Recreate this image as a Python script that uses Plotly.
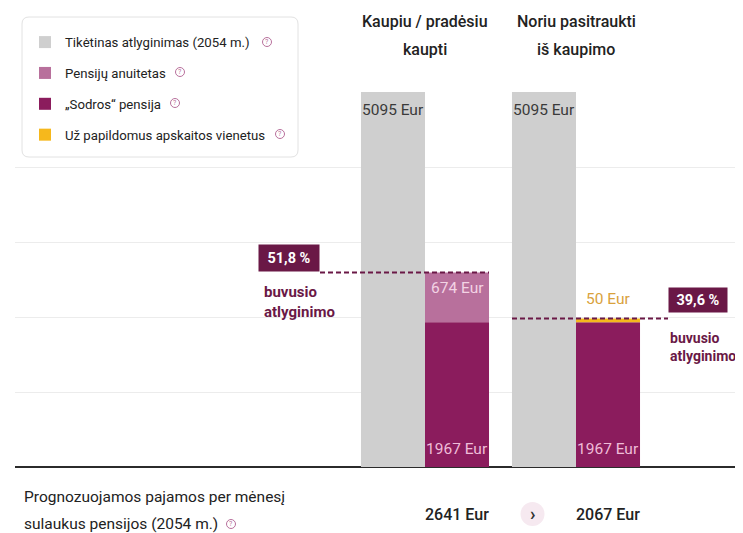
import plotly.graph_objects as go

# ---------------- data ----------------
categories = ["Kaupiu / pradėsiu kaupti", "Noriu pasitraukti iš kaupimo"]
header_lines = [["Kaupiu / pradėsiu", "kaupti"], ["Noriu pasitraukti", "iš kaupimo"]]
salary = [5095, 5095]
annuity = [674, None]
sodros = [1967, 1967]
extra_units = [None, 50]
totals = [2641, 2067]
percent_labels = ["51,8 %", "39,6 %"]
legend_names = ["Tikėtinas atlyginimas (2054 m.)", "Pensijų anuitetas",
                "„Sodros“ pensija", "Už papildomus apskaitos vienetus"]
bottom_lines = ["Prognozuojamos pajamos per mėnesį", "sulaukus pensijos (2054 m.)"]

# ---------------- style ----------------
FONT = "Roboto"
C_GRAY = "#cfcfcf"
C_ANN = "#b8709c"
C_SOD = "#8b1c5d"
C_EXTRA = "#f6b81c"
C_DARK = "#6a1846"
C_ICON = "#b8709c"

OFF = 8  # default page body margin
W, H = 743 - OFF, 533 - OFF
# plot area in reference-image pixels
RL, RR, RT, RB = 15, 743, 92, 467
L, R, T, B = RL - OFF, RR - OFF, RT - OFF, RB - OFF


def pxx(p):
    return (p - RL) / (RR - RL)


def pxy(p):
    return (RB - p) / (RB - RT)


CAT_PX = 151.0
X0_PX = 425.0
xr = [(RL - X0_PX) / CAT_PX, (RR - X0_PX) / CAT_PX]


def dx(p):
    return (p - X0_PX) / CAT_PX


HALF = 0.212  # centre offset of each bar within a category
ymax = max(salary)

fig = go.Figure()
fig.add_trace(go.Bar(
    x=categories, y=salary, name=legend_names[0], offsetgroup="a",
    legendgroup="g1", marker=dict(color=C_GRAY, line=dict(width=0)), hoverinfo="skip"))
fig.add_trace(go.Bar(
    x=categories, y=annuity, base=sodros, name=legend_names[1], offsetgroup="b",
    legendgroup="g2", marker=dict(color=C_ANN, line=dict(width=0)), hoverinfo="skip"))
fig.add_trace(go.Bar(
    x=categories, y=sodros, name=legend_names[2], offsetgroup="b",
    legendgroup="g3", marker=dict(color=C_SOD, line=dict(width=0)), hoverinfo="skip"))
fig.add_trace(go.Bar(
    x=categories, y=extra_units, base=sodros, name=legend_names[3], offsetgroup="b",
    legendgroup="g4", marker=dict(color=C_EXTRA, line=dict(width=0)), hoverinfo="skip"))

annotations = []
shapes = []

# bar value labels
for i, v in enumerate(salary):
    annotations.append(dict(x=i - HALF, y=v, xref="x", yref="y", text=f"{v} Eur",
                            showarrow=False, xanchor="center", yanchor="top", yshift=-7,
                            font=dict(family=FONT, size=15.5, color="#3a3a3a")))
for i, v in enumerate(annuity):
    if v:
        annotations.append(dict(x=i + HALF, y=sodros[i] + v, xref="x", yref="y",
                                text=f"{v} Eur", showarrow=False, xanchor="center",
                                yanchor="top", yshift=-4,
                                font=dict(family=FONT, size=15.5, color="#f3d3e4")))
for i, v in enumerate(sodros):
    annotations.append(dict(x=i + HALF, y=0, xref="x", yref="y", text=f"{v} Eur",
                            showarrow=False, xanchor="center", yanchor="bottom", yshift=7,
                            font=dict(family=FONT, size=15.5, color="#efbcd8")))
for i, v in enumerate(extra_units):
    if v:
        annotations.append(dict(
            x=i + HALF, y=sodros[i] + v, xref="x", yref="y", text=f"{v} Eur",
            showarrow=False, xanchor="center", yanchor="bottom", yshift=9,
            font=dict(family=FONT, size=15.5, color="#d9a23c")))

# headers
for i, lines in enumerate(header_lines):
    for j, line in enumerate(lines):
        annotations.append(dict(
            x=i, y=pxy(22 + 28 * j), xref="x", yref="paper", text=line,
            showarrow=False, xanchor="center", yanchor="middle",
            font=dict(family=FONT, size=16, color="#222", weight=500)))

# dashed lines and percent boxes
tops = [sodros[0] + (annuity[0] or 0), sodros[1] + (extra_units[1] or 0)]
line_spans = [(dx(320), dx(489)), (dx(512), dx(668))]
for i in range(2):
    shapes.append(dict(type="line", xref="x", yref="y",
                       x0=line_spans[i][0], x1=line_spans[i][1], y0=tops[i], y1=tops[i],
                       line=dict(color=C_DARK, width=2, dash="5px,3px"), layer="above"))
annotations.append(dict(x=line_spans[0][0], y=tops[0], xref="x", yref="y",
                        text=f"<b>{percent_labels[0]}</b>", showarrow=False,
                        xanchor="right", yanchor="bottom", yshift=1, bgcolor=C_DARK,
                        width=56, height=22, borderpad=2,
                        font=dict(family=FONT, size=14.5, color="white")))
annotations.append(dict(x=dx(262), y=tops[0], xref="x", yref="y",
                        text="<b>buvusio<br>atlyginimo</b>", showarrow=False, align="left",
                        xanchor="left", yanchor="top", yshift=-8,
                        font=dict(family=FONT, size=15, color=C_DARK)))
annotations.append(dict(x=line_spans[1][1], y=tops[1], xref="x", yref="y",
                        text=f"<b>{percent_labels[1]}</b>", showarrow=False,
                        xanchor="left", yanchor="bottom", yshift=6, bgcolor=C_DARK,
                        width=54, height=20, borderpad=2,
                        font=dict(family=FONT, size=14.5, color="white")))
annotations.append(dict(x=line_spans[1][1], y=tops[1], xref="x", yref="y",
                        text="<b>buvusio<br>atlyginimo</b>", showarrow=False, align="left",
                        xanchor="left", yanchor="top", yshift=-9,
                        font=dict(family=FONT, size=14, color=C_DARK)))

# bottom row
for j, line in enumerate(bottom_lines):
    annotations.append(dict(x=pxx(22), y=pxy(497 + 27 * j), xref="paper", yref="paper",
                            text=line, showarrow=False, xanchor="left", yanchor="middle",
                            font=dict(family=FONT, size=15.5, color="#222")))
for i, v in enumerate(totals):
    annotations.append(dict(x=i + HALF, y=pxy(514), xref="x", yref="paper",
                            text=f"{v} Eur", showarrow=False, xanchor="center",
                            yanchor="middle",
                            font=dict(family=FONT, size=16, color="#222", weight=500)))
mid_x = 0.5 + HALF
shapes.append(dict(type="circle", xref="x", yref="paper", xsizemode="pixel",
                   ysizemode="pixel", xanchor=mid_x, yanchor=pxy(514),
                   x0=-12, x1=12, y0=-12, y1=12, fillcolor="#f6e9f0",
                   line=dict(width=0)))
annotations.append(dict(x=mid_x, y=pxy(514), xref="x", yref="paper", text="<b>›</b>",
                        showarrow=False, xanchor="center", yanchor="middle", yshift=1,
                        font=dict(family=FONT, size=18, color="#333")))

# legend box (rounded)
bx0, bx1, by0, by1 = pxx(22), pxx(298), pxy(157), pxy(17)
rx, ry = 7 / (RR - RL), 7 / (RB - RT)
path = (f"M{bx0+rx},{by1} L{bx1-rx},{by1} Q{bx1},{by1} {bx1},{by1-ry} "
        f"L{bx1},{by0+ry} Q{bx1},{by0} {bx1-rx},{by0} L{bx0+rx},{by0} "
        f"Q{bx0},{by0} {bx0},{by0+ry} L{bx0},{by1-ry} Q{bx0},{by1} {bx0+rx},{by1} Z")
shapes.append(dict(type="path", xref="paper", yref="paper", path=path,
                   fillcolor="white", line=dict(color="#e2e2e2", width=1), layer="above"))

# question icons
icons = [(267, 42), (180, 72), (175, 103), (280, 134), (231, 524)]
for (ix, iy) in icons:
    shapes.append(dict(type="circle", xref="paper", yref="paper", xsizemode="pixel",
                       ysizemode="pixel", xanchor=pxx(ix), yanchor=pxy(iy),
                       x0=-4.5, x1=4.5, y0=-4.5, y1=4.5, fillcolor="rgba(0,0,0,0)",
                       line=dict(color=C_ICON, width=1), layer="above"))
    annotations.append(dict(x=pxx(ix), y=pxy(iy), xref="paper", yref="paper", text="?",
                            showarrow=False, xanchor="center", yanchor="middle",
                            font=dict(family=FONT, size=7, color=C_ICON)))

fig.update_layout(
    width=W, height=H,
    margin=dict(l=L, r=W - R, t=T, b=H - B, pad=0),
    paper_bgcolor="white", plot_bgcolor="white",
    barmode="group", bargap=0.152, bargroupgap=0,
    font=dict(family=FONT, color="#333"),
    showlegend=True,
    legend=dict(x=pxx(25), y=pxy(27), xanchor="left", yanchor="top",
                bgcolor="rgba(0,0,0,0)", borderwidth=0, traceorder="grouped",
                tracegroupgap=10.7, font=dict(family=FONT, size=13.2, color="#222"),
                itemclick=False, itemdoubleclick=False),
    xaxis=dict(range=xr, showgrid=False, showticklabels=False, ticks="",
               zeroline=False, showline=False, fixedrange=True),
    yaxis=dict(range=[0, ymax], tick0=0, dtick=ymax / 5, showgrid=True,
               gridcolor="#ececec", gridwidth=1, showticklabels=False, ticks="",
               zeroline=True, zerolinecolor="#2b2b2b", zerolinewidth=2,
               showline=False, fixedrange=True),
    annotations=annotations, shapes=shapes,
)

fig.write_html("out.html", config={"displayModeBar": False})
